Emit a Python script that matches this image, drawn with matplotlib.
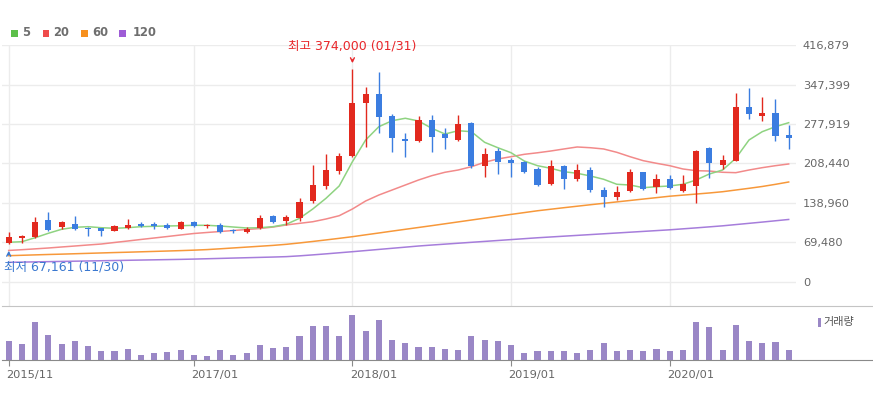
import matplotlib
matplotlib.use("Agg")
import matplotlib.pyplot as plt
import matplotlib.transforms as mtransforms
from matplotlib.patches import Rectangle
from matplotlib.ticker import FuncFormatter

plt.rcParams['font.family'] = ['DejaVu Sans', 'Noto Sans CJK KR']

# ---------------- data (monthly, 2015/11 .. 2020/10) ----------------
opens = [68070, 76900, 78600, 109000, 96200, 102000, 93500, 94500, 90200, 95500,
         102000, 102600, 99700, 93800, 105500, 98000, 99700, 90500, 87400, 94500,
         115500, 107800, 112000, 142500, 168900, 195800, 222200, 314300, 330700, 291500,
         251500, 248000, 285000, 260300, 249800, 279200, 204000, 231000, 214600, 211600,
         198800, 171900, 204000, 180700, 197000, 161800, 149000, 160100, 193000, 167600,
         180700, 160100, 169400, 235200, 205800, 212800, 308400, 292500, 297800, 258600]
highs = [88480, 82700, 113800, 122600, 107300, 116100, 97300, 95500, 101000, 110800,
         106000, 105500, 104000, 107300, 107300, 102000, 103000, 92700, 96300, 117900,
         117000, 117900, 148300, 205800, 225700, 226400, 374000, 342500, 368900, 296000,
         262600, 291500, 293200, 271400, 293800, 282000, 236200, 235200, 217600, 213000,
         202800, 214600, 205000, 207000, 201800, 167600, 168900, 198200, 194000, 189400,
         188200, 188200, 232200, 238000, 223400, 331900, 340700, 324900, 321900, 276200]
lows = [67161, 68000, 78000, 89700, 93800, 92000, 80900, 80900, 89000, 93800,
        97500, 92700, 92700, 92700, 96300, 95000, 86000, 85700, 86500, 93200,
        103000, 100300, 107800, 138400, 163100, 190000, 220400, 238000, 261600, 229200,
        220400, 245700, 229200, 234000, 248000, 200000, 184200, 189500, 184200, 191800,
        168900, 170600, 163100, 177700, 157800, 131400, 144200, 157800, 162000, 156000,
        164000, 158900, 138400, 182400, 198800, 212800, 286200, 283700, 248600, 233400]
closes = [79680, 80400, 105000, 91500, 105500, 93800, 92500, 90200, 98000, 99700,
          98500, 98500, 94500, 105500, 99000, 99000, 88000, 89000, 93800, 113100,
          105500, 113800, 140200, 170600, 197000, 221600, 315400, 330700, 290200, 253800,
          248600, 285000, 255600, 252800, 277900, 204000, 225700, 210600, 208800, 194000,
          170600, 204000, 180700, 197000, 161800, 150000, 157800, 193000, 163600, 181200,
          165900, 171900, 230400, 208800, 214600, 307300, 295000, 297800, 257300, 252800]

ma5 = [69800, 70900, 77900, 85700, 92700, 96200, 97300, 95500, 94500, 95500,
       97300, 98000, 98500, 99000, 99700, 99700, 98500, 96700, 95000, 95500,
       97300, 101500, 112000, 128400, 147200, 168900, 211600, 249800, 273200, 283700,
       288000, 283200, 270400, 260300, 266100, 264400, 245700, 236200, 227400, 212800,
       204600, 200000, 194000, 191200, 186500, 180700, 171900, 170600, 165900, 167600,
       168900, 171900, 179400, 190000, 197000, 217600, 249800, 264400, 273200, 280200]
ma20 = [55500, 56800, 58300, 59800, 61600, 63300, 65100, 66800, 69500, 72100,
        74800, 77400, 80000, 82700, 85300, 87100, 88800, 90600, 92300, 94100,
        96700, 100300, 103200, 106000, 110800, 116600, 128400, 142500, 153000, 161800,
        170600, 179400, 187000, 193000, 197000, 202800, 210600, 216400, 220400, 224600,
        227300, 230400, 234000, 237500, 236200, 234000, 228100, 220400, 213400, 208800,
        204600, 198800, 195800, 195200, 193000, 192300, 197000, 201100, 204600, 207600]
ma60 = [46300, 47000, 47700, 48400, 49000, 49700, 50400, 51100, 51800, 52400,
        53100, 53800, 54500, 55200, 56000, 57000, 58400, 59900, 61400, 62900,
        64400, 66300, 68700, 71300, 74000, 76800, 79700, 83000, 86200, 89500,
        92700, 95900, 99100, 102400, 105700, 109000, 112300, 115600, 118900, 122100,
        125300, 128000, 130700, 133300, 135900, 138400, 140900, 143400, 145900, 148400,
        150900, 152800, 154700, 156600, 158800, 161800, 164800, 168000, 171800, 175900]
ma120 = [34600, 35000, 35400, 35800, 36200, 36600, 37000, 37400, 37800, 38200,
         38600, 39000, 39400, 39800, 40300, 40900, 41500, 42100, 42700, 43300,
         43900, 44600, 46000, 47700, 49500, 51400, 53300, 55300, 57300, 59300,
         61300, 63300, 65000, 66600, 68200, 69800, 71400, 73000, 74600, 76200,
         77800, 79200, 80600, 82000, 83400, 84800, 86200, 87600, 89000, 90400,
         91800, 93500, 95200, 97000, 98800, 101000, 103200, 105400, 107700, 110000]

volumes = [57, 47, 113, 76, 47, 57, 42, 27, 27, 34,
           16, 20, 23, 31, 16, 12, 31, 16, 20, 46,
           35, 39, 72, 102, 102, 72, 136, 87, 121, 61,
           50, 38, 38, 34, 31, 72, 61, 57, 46, 20,
           27, 27, 27, 20, 31, 50, 27, 31, 27, 34,
           27, 31, 113, 98, 31, 106, 57, 50, 53, 31]
volumes = [v * 1000 for v in volumes]

xtick_idx = [0, 14, 26, 38, 50]
xtick_labels = ["2015/11", "2017/01", "2018/01", "2019/01", "2020/01"]
ytick_vals = [0, 69480, 138960, 208440, 277919, 347399, 416879]

high_label = "최고 374,000 (01/31)"
low_label = "최저 67,161 (11/30)"
high_idx, low_idx = 26, 0

ma_names = ["5", "20", "60", "120"]

# ---------------- styles ----------------
UP = '#e2291e'
DOWN = '#3b7de0'
MA_COL = ['#8fd381', '#f28a8a', '#f7983a', '#a67ddb']
LEG_COL = ['#5cbf4a', '#ef4b4b', '#f7901e', '#9e5cd6']
VOL_COL = '#9a87c6'
GRID = '#ececec'
TXT = '#666666'

W, H = 873, 396
fig = plt.figure(figsize=(W / 100, H / 100), dpi=100)


def rect(x0, y0, x1, y1):
    return [x0 / W, 1 - y1 / H, (x1 - x0) / W, (y1 - y0) / H]


X0, STEP = 8.7, 13.22
ax = fig.add_axes(rect(2, 45, 796, 306))
axv = fig.add_axes(rect(2, 306, 873, 360))

n = len(opens)
idx = list(range(n))
ax.set_xlim((2 - X0) / STEP, (796 - X0) / STEP)
axv.set_xlim((2 - X0) / STEP, (873 - X0) / STEP)

ppu = 237 / 416879  # px per unit
ax.set_ylim(-24 / ppu, 416879)

# grid
ax.set_yticks(ytick_vals)
ax.set_xticks(xtick_idx)
ax.grid(True, color=GRID, lw=1.0, zorder=0)
ax.set_axisbelow(True)
for s in ax.spines.values():
    s.set_visible(False)
ax.tick_params(axis='x', length=0, labelbottom=False)
ax.yaxis.tick_right()
ax.tick_params(axis='y', length=0, pad=5, labelsize=8.2, labelcolor=TXT)
ax.yaxis.set_major_formatter(FuncFormatter(lambda v, p: f"{int(round(v)):,}"))

# MA lines
for ma, c in zip([ma120, ma60, ma20, ma5], MA_COL[::-1]):
    ax.plot(idx, ma, color=c, lw=1.1, zorder=2)

# candles
bw = 0.46
min_h = 1.2 / ppu
for i in idx:
    o, h, l, c = opens[i], highs[i], lows[i], closes[i]
    col = UP if c >= o else DOWN
    ax.vlines(i, l, h, color=col, lw=1.0, zorder=3)
    bot = min(o, c)
    hh = max(abs(c - o), min_h)
    ax.bar(i, hh, bottom=bot, width=bw, color=col, lw=0, zorder=4)


# annotations
def ypx(p):
    return (282 - p) / ppu


ax.text(high_idx, ypx(46), high_label, color='#e8262a', fontsize=9,
        ha='center', va='center', clip_on=False, zorder=6)
ax.annotate('', xy=(high_idx, ypx(66)), xytext=(high_idx, ypx(57)),
            arrowprops=dict(arrowstyle='->', color='#e8262a', lw=1.0,
                            mutation_scale=7), annotation_clip=False)
ax.text((4 - X0) / STEP, ypx(267), low_label, color='#3a78d0', fontsize=9,
        ha='left', va='center', clip_on=False, zorder=6)
ax.annotate('', xy=(low_idx, ypx(248)), xytext=(low_idx, ypx(257.5)),
            arrowprops=dict(arrowstyle='->', color='#3a78d0', lw=1.0,
                            mutation_scale=7), annotation_clip=False)

# volume panel
axv.bar(idx, volumes, width=bw, color=VOL_COL, lw=0)
axv.set_ylim(0, 162000)
axv.set_yticks([])
axv.spines['left'].set_visible(False)
axv.spines['right'].set_visible(False)
axv.spines['top'].set_color('#c4c4c4')
axv.spines['bottom'].set_color('#8a8a8a')
axv.set_xticks(xtick_idx)
axv.set_xticklabels(xtick_labels)
axv.tick_params(axis='x', length=4, color='#8a8a8a', labelsize=8.2,
                labelcolor=TXT, pad=3)
shift = mtransforms.ScaledTranslation(-2.5 / 100, 0, fig.dpi_scale_trans)
for lbl in axv.get_xticklabels():
    lbl.set_ha('left')
    lbl.set_transform(lbl.get_transform() + shift)

# volume legend
fig.add_artist(Rectangle((818.3 / W, 1 - 327 / H), 2.6 / W, 9 / H,
                         transform=fig.transFigure, color=VOL_COL, lw=0))
fig.text(823 / W, 1 - 322.5 / H, "거래량", fontsize=8, color='#555555',
         ha='left', va='center')

# top legend
leg_sq = [11, 42.7, 81, 119.3]
leg_tx = [22, 53, 92.7, 132.7]
for sx, tx, col, name in zip(leg_sq, leg_tx, LEG_COL, ma_names):
    fig.add_artist(Rectangle((sx / W, 1 - 36.8 / H), 6.5 / W, 7 / H,
                             transform=fig.transFigure, color=col, lw=0))
    fig.text(tx / W, 1 - 33 / H, name, fontsize=8.3, fontweight='bold',
             color='#6e6e6e', ha='left', va='center')

fig.savefig("out.png", dpi=100)
